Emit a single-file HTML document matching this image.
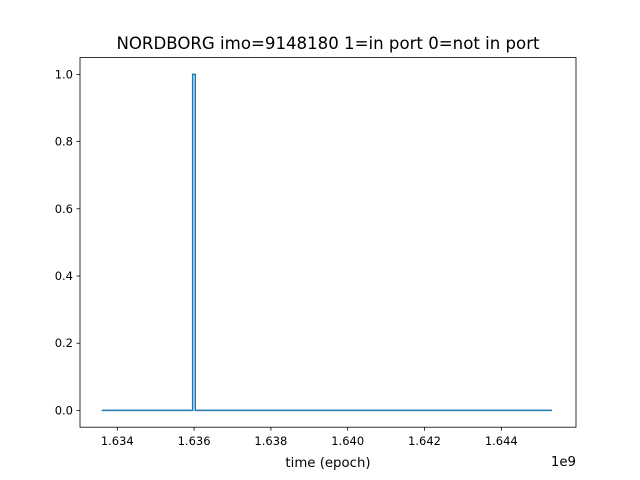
<!DOCTYPE html>
<html><head><meta charset="utf-8"><style>
body{margin:0;background:#fff;}
svg{display:block;font-family:"DejaVu Sans","Liberation Sans",sans-serif;}
</style></head><body>
<svg id="chart" width="640" height="480">
<rect width="640" height="480" fill="#fff"/>
<text x="328" y="49" font-size="16.6" text-anchor="middle">NORDBORG imo=9148180 1=in port 0=not in port</text>
<g id="plot"></g>
<rect x="80" y="57.6" width="496" height="369.6" fill="none" stroke="#000" stroke-width="0.8"/>
<text x="328" y="467" font-size="13.3" text-anchor="middle">time (epoch)</text>
<text x="576" y="466" font-size="13.3" text-anchor="end">1e9</text>
</svg>
<script>
const times = [1.633594, 1.635963, 1.635963, 1.636031, 1.636031, 1.645320];
const values = [0, 0, 1, 1, 0, 0];
const xTicks = [1.634, 1.636, 1.638, 1.640, 1.642, 1.644];
const xTickLabels = ["1.634","1.636","1.638","1.640","1.642","1.644"];
const yTicks = [0, 0.2, 0.4, 0.6, 0.8, 1.0];
const yTickLabels = ["0.0","0.2","0.4","0.6","0.8","1.0"];
const X0=80,X1=576,Y0=427.2,Y1=57.6;
const xmin=1.633029,xmax=1.645945,ymin=-0.05,ymax=1.05;
const sx=v=>X0+(v-xmin)/(xmax-xmin)*(X1-X0);
const sy=v=>Y0-(v-ymin)/(ymax-ymin)*(Y0-Y1);
const NS="http://www.w3.org/2000/svg";
const g=document.getElementById('plot');
function mk(t,a){const e=document.createElementNS(NS,t);for(const k in a)e.setAttribute(k,a[k]);return e;}
xTicks.forEach((t,i)=>{
  const x=sx(t);
  const l=mk('line',{x1:x,x2:x,y1:Y0,y2:Y0+3.5,stroke:'#000','stroke-width':0.8});
  
  
  g.appendChild(l);
  const tx=mk('text',{x:x,y:Y0+18,'font-size':11.5,'text-anchor':'middle'});
  tx.textContent=xTickLabels[i];
  
  
  g.appendChild(tx);
});
yTicks.forEach((t,i)=>{
  const y=sy(t);
  const l=mk('line',{x1:X0-3.5,x2:X0,y1:y,y2:y,stroke:'#000','stroke-width':0.8});
  
  
  g.appendChild(l);
  const tx=mk('text',{x:X0-7,y:y+4,'font-size':11.5,'text-anchor':'end'});
  tx.textContent=yTickLabels[i];
  
  
  g.appendChild(tx);
});
const pts=times.map((t,i)=>sx(t).toFixed(2)+','+sy(values[i]).toFixed(2)).join(' ');
const line=mk('polyline',{points:pts,fill:'none',stroke:'#1f77b4','stroke-width':1.5});


g.appendChild(line);
</script>
</body></html>
